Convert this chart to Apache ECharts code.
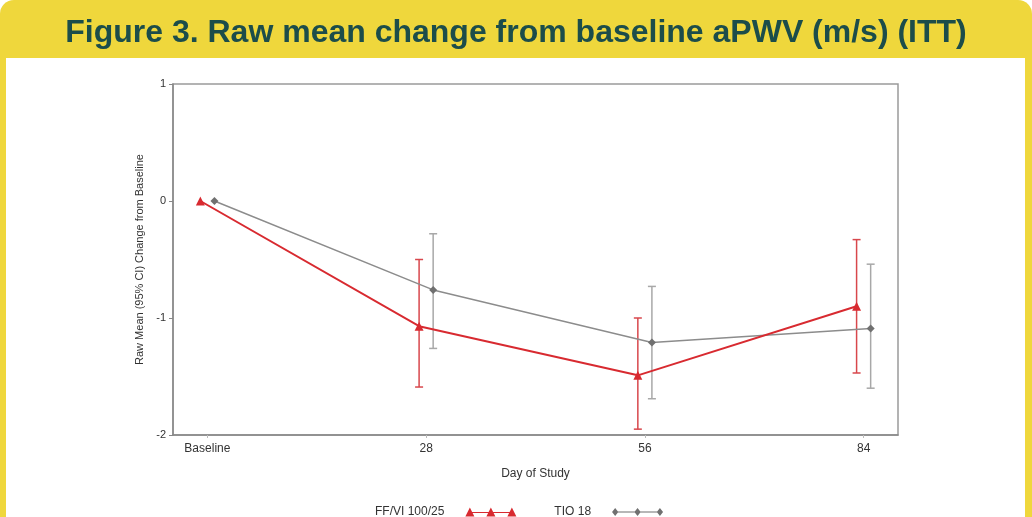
<!DOCTYPE html>
<html>
<head>
<meta charset="utf-8">
<script src="https://cdn.jsdelivr.net/npm/echarts@6/dist/echarts.min.js"></script>
<style>
  body { margin: 0; background: #fff; }
  .frame {
    position: absolute; left: 0; top: 0; width: 1032px; height: 517px;
    background: #efd73c; border-radius: 14px 14px 0 0; overflow: hidden;
  }
  .panel {
    position: absolute; left: 6px; top: 58px; width: 1019px; height: 459px;
    background: #fff;
  }
  #chart { position: absolute; left: 0; top: 0; width: 1032px; height: 517px; }
</style>
</head>
<body>
<div class="frame"><div class="panel"></div></div>
<div id="chart"></div>
<script>
// x positions (day of study, red/grey slightly dodged)
const dayTicks = [0, 28, 56, 84]
const xFF = [-0.9, 27.1, 55.1, 83.1]
const xTIO = [0.9, 28.9, 56.9, 84.9]

// FF/VI 100/25
const ffMean = [0, -1.07, -1.49, -0.9]
const ffLow = [null, -1.59, -1.95, -1.47]
const ffHigh = [null, -0.5, -1.0, -0.33]

// TIO 18
const tioMean = [0, -0.76, -1.21, -1.09]
const tioLow = [null, -1.26, -1.69, -1.6]
const tioHigh = [null, -0.28, -0.73, -0.54]

const RED = '#d82a30'
const GREY = '#8c8c8c'

const chart = echarts.init(document.getElementById('chart'))

function errorBars(xs, lo, hi) {
  return xs.map((x, i) => [x, lo[i], hi[i]]).filter(d => d[1] !== null)
}

function barRender(color) {
  return function (params, api) {
    const top = api.coord([api.value(0), api.value(2)])
    const bot = api.coord([api.value(0), api.value(1)])
    const w = 4
    const style = { stroke: color, lineWidth: 1.5, fill: null }
    return {
      type: 'group',
      children: [
        { type: 'line', shape: { x1: top[0], y1: top[1], x2: bot[0], y2: bot[1] }, style },
        { type: 'line', shape: { x1: top[0] - w, y1: top[1], x2: top[0] + w, y2: top[1] }, style },
        { type: 'line', shape: { x1: bot[0] - w, y1: bot[1], x2: bot[0] + w, y2: bot[1] }, style }
      ]
    }
  }
}

const triIcon = 'path://M0,9L4.5,0L9,9Z M21,9L25.5,0L30,9Z M42,9L46.5,0L51,9Z M4,4.6L47,4.6L47,5.6L4,5.6Z'
const diaIcon = 'path://M0,4.5L3.5,0L7,4.5L3.5,9Z M25,4.5L28.5,0L32,4.5L28.5,9Z M50,4.5L53.5,0L57,4.5L53.5,9Z M3,4L54,4L54,5L3,5Z'

const option = {
  animation: false,
  textStyle: { fontFamily: 'Liberation Sans, Arial, sans-serif' },
  title: {
    text: 'Figure 3. Raw mean change from baseline aPWV (m/s) (ITT)',
    left: 'center',
    top: 12,
    textStyle: { color: '#1c4d4a', fontSize: 32, fontWeight: 'bold', fontFamily: 'Liberation Sans, Arial, sans-serif' }
  },
  legend: {
    left: 370,
    top: 501,
    align: 'right',
    itemWidth: 51,
    itemHeight: 9,
    itemGap: 38,
    textStyle: { fontSize: 12, color: '#333', padding: [0, 16, 0, 0] },
    data: [
      { name: 'FF/VI 100/25', icon: triIcon },
      { name: 'TIO 18', icon: diaIcon }
    ]
  },
  grid: { left: 173, right: 134, top: 84, bottom: 82, show: true, borderColor: '#9a9a9a', borderWidth: 1.5 },
  xAxis: {
    type: 'value',
    min: -4.4,
    max: 88.4,
    name: 'Day of Study',
    nameLocation: 'middle',
    nameGap: 33,
    nameTextStyle: { fontSize: 12, color: '#333' },
    axisLine: { onZero: false, lineStyle: { color: '#888', width: 1.5 } },
    splitLine: { show: false },
    axisTick: { customValues: dayTicks, length: 3, lineStyle: { color: '#bbb' } },
    axisLabel: {
      customValues: dayTicks,
      fontSize: 12,
      color: '#333',
      margin: 8,
      formatter: v => (v === 0 ? 'Baseline' : String(v))
    }
  },
  yAxis: {
    type: 'value',
    min: -2,
    max: 1,
    interval: 1,
    name: 'Raw Mean (95% CI) Change from Baseline',
    nameLocation: 'middle',
    nameRotate: 90,
    nameGap: 26,
    nameTextStyle: { fontSize: 11, color: '#333' },
    axisLine: { show: true, onZero: false, lineStyle: { color: '#888', width: 1.5 } },
    axisTick: { show: true, length: 4, lineStyle: { color: '#888' } },
    splitLine: { show: false },
    axisLabel: { fontSize: 11, color: '#333', margin: 7 }
  },
  series: [
    {
      name: 'FF/VI 100/25',
      type: 'line',
      data: xFF.map((x, i) => [x, ffMean[i]]),
      symbol: 'triangle',
      symbolSize: 9,
      lineStyle: { color: RED, width: 2 },
      itemStyle: { color: RED },
      z: 4
    },
    {
      name: 'TIO 18',
      type: 'line',
      data: xTIO.map((x, i) => [x, tioMean[i]]),
      symbol: 'diamond',
      symbolSize: 8,
      lineStyle: { color: GREY, width: 1.5 },
      itemStyle: { color: '#707070' },
      z: 3
    },
    {
      name: 'FF/VI 100/25',
      type: 'custom',
      renderItem: barRender('#d8474c'),
      data: errorBars(xFF, ffLow, ffHigh),
      z: 2
    },
    {
      name: 'TIO 18',
      type: 'custom',
      renderItem: barRender('#a8a8a8'),
      data: errorBars(xTIO, tioLow, tioHigh),
      z: 1
    }
  ]
}

chart.setOption(option)
</script>
</body>
</html>
